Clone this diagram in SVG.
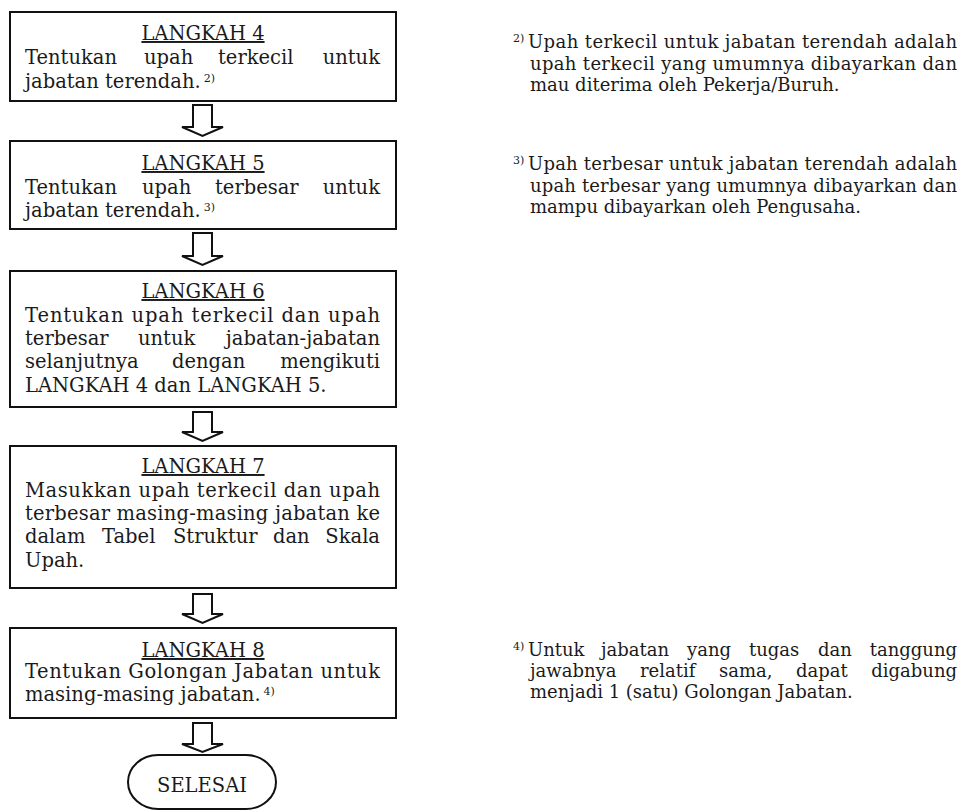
<svg xmlns="http://www.w3.org/2000/svg" width="961" height="812" viewBox="0 0 961 812">
<style>
text{font-family:"DejaVu Serif","Liberation Serif",serif;font-size:18px;fill:#1a1a1a}
.b{font-size:19.5px}
.box{fill:#fff;stroke:#111;stroke-width:2}
.arr{fill:#fff;stroke:#111;stroke-width:2;stroke-linejoin:miter}
.h{text-anchor:middle;text-decoration:underline}
.e{text-anchor:end}
.sup{font-size:11px}
</style>
<rect width="961" height="812" fill="#fff"/>
<g id="connectors">
<path class="arr" d="M193,105 H212 V127 H223 L202.5,136 L182,127 H193 Z"/>
<path class="arr" d="M193,233 H212 V256 H223 L202.5,265 L182,256 H193 Z"/>
<path class="arr" d="M193,412 H212 V432 H223 L202.5,441 L182,432 H193 Z"/>
<path class="arr" d="M193,594 H212 V614 H223 L202.5,623 L182,614 H193 Z"/>
<path class="arr" d="M193,723 H212 V744 H223 L202.5,752 L182,744 H193 Z"/>
</g>
<g id="langkah4">
<rect class="box" x="10" y="12" width="386" height="89"/>
<text class="b h" x="203" y="40">LANGKAH 4</text>
<text class="b" y="64"><tspan x="25">Tentukan</tspan><tspan x="144">upah</tspan><tspan x="218">terkecil</tspan><tspan x="380" class="e">untuk</tspan></text>
<text class="b" x="25" y="88">jabatan terendah.<tspan class="sup" dx="3" dy="-6">2)</tspan></text>
</g>
<g id="langkah5">
<rect class="box" x="10" y="141" width="386" height="88"/>
<text class="b h" x="203" y="170">LANGKAH 5</text>
<text class="b" y="194"><tspan x="25">Tentukan</tspan><tspan x="142">upah</tspan><tspan x="215">terbesar</tspan><tspan x="380" class="e">untuk</tspan></text>
<text class="b" x="25" y="217">jabatan terendah.<tspan class="sup" dx="3" dy="-6">3)</tspan></text>
</g>
<g id="langkah6">
<rect class="box" x="10" y="271" width="386" height="136"/>
<text class="b h" x="203" y="298">LANGKAH 6</text>
<text class="b" x="25" y="322" textLength="355" lengthAdjust="spacing">Tentukan upah terkecil dan upah</text>
<text class="b" y="345"><tspan x="25">terbesar</tspan><tspan x="138">untuk</tspan><tspan x="380" class="e">jabatan-jabatan</tspan></text>
<text class="b" y="368"><tspan x="25">selanjutnya</tspan><tspan x="172">dengan</tspan><tspan x="380" class="e">mengikuti</tspan></text>
<text class="b" x="25" y="392">LANGKAH 4 dan LANGKAH 5.</text>
</g>
<g id="langkah7">
<rect class="box" x="10" y="446" width="386" height="142"/>
<text class="b h" x="203" y="473">LANGKAH 7</text>
<text class="b" x="25" y="497" textLength="355" lengthAdjust="spacing">Masukkan upah terkecil dan upah</text>
<text class="b" x="25" y="520" textLength="355" lengthAdjust="spacing">terbesar masing-masing jabatan ke</text>
<text class="b" y="543"><tspan x="25">dalam</tspan><tspan x="102">Tabel</tspan><tspan x="173">Struktur</tspan><tspan x="273">dan</tspan><tspan x="380" class="e">Skala</tspan></text>
<text class="b" x="25" y="567">Upah.</text>
</g>
<g id="langkah8">
<rect class="box" x="10" y="628" width="386" height="90"/>
<text class="b h" x="203" y="657">LANGKAH 8</text>
<text class="b" x="25" y="678" textLength="355" lengthAdjust="spacing">Tentukan Golongan Jabatan untuk</text>
<text class="b" x="25" y="701">masing-masing jabatan.<tspan class="sup" dx="3" dy="-6">4)</tspan></text>
</g>
<g id="selesai">
<rect class="box" x="128" y="755" width="148" height="54" rx="30" ry="27"/>
<text class="b" x="202" y="792" text-anchor="middle">SELESAI</text>
</g>
<g id="footnote2">
<text class="sup" x="513" y="42">2)</text>
<text x="528" y="48" textLength="429" lengthAdjust="spacing">Upah terkecil untuk jabatan terendah adalah</text>
<text x="530" y="70" textLength="427" lengthAdjust="spacing">upah terkecil yang umumnya dibayarkan dan</text>
<text x="530" y="91">mau diterima oleh Pekerja/Buruh.</text>
</g>
<g id="footnote3">
<text class="sup" x="513" y="164">3)</text>
<text x="528" y="170" textLength="429" lengthAdjust="spacing">Upah terbesar untuk jabatan terendah adalah</text>
<text x="530" y="192" textLength="427" lengthAdjust="spacing">upah terbesar yang umumnya dibayarkan dan</text>
<text x="530" y="213">mampu dibayarkan oleh Pengusaha.</text>
</g>
<g id="footnote4">
<text class="sup" x="513" y="650">4)</text>
<text y="656"><tspan x="528">Untuk</tspan><tspan x="601">jabatan</tspan><tspan x="687">yang</tspan><tspan x="749">tugas</tspan><tspan x="818">dan</tspan><tspan x="957" class="e">tanggung</tspan></text>
<text y="677"><tspan x="530">jawabnya</tspan><tspan x="640">relatif</tspan><tspan x="719">sama,</tspan><tspan x="796">dapat</tspan><tspan x="957" class="e">digabung</tspan></text>
<text x="530" y="698">menjadi 1 (satu) Golongan Jabatan.</text>
</g>
</svg>
